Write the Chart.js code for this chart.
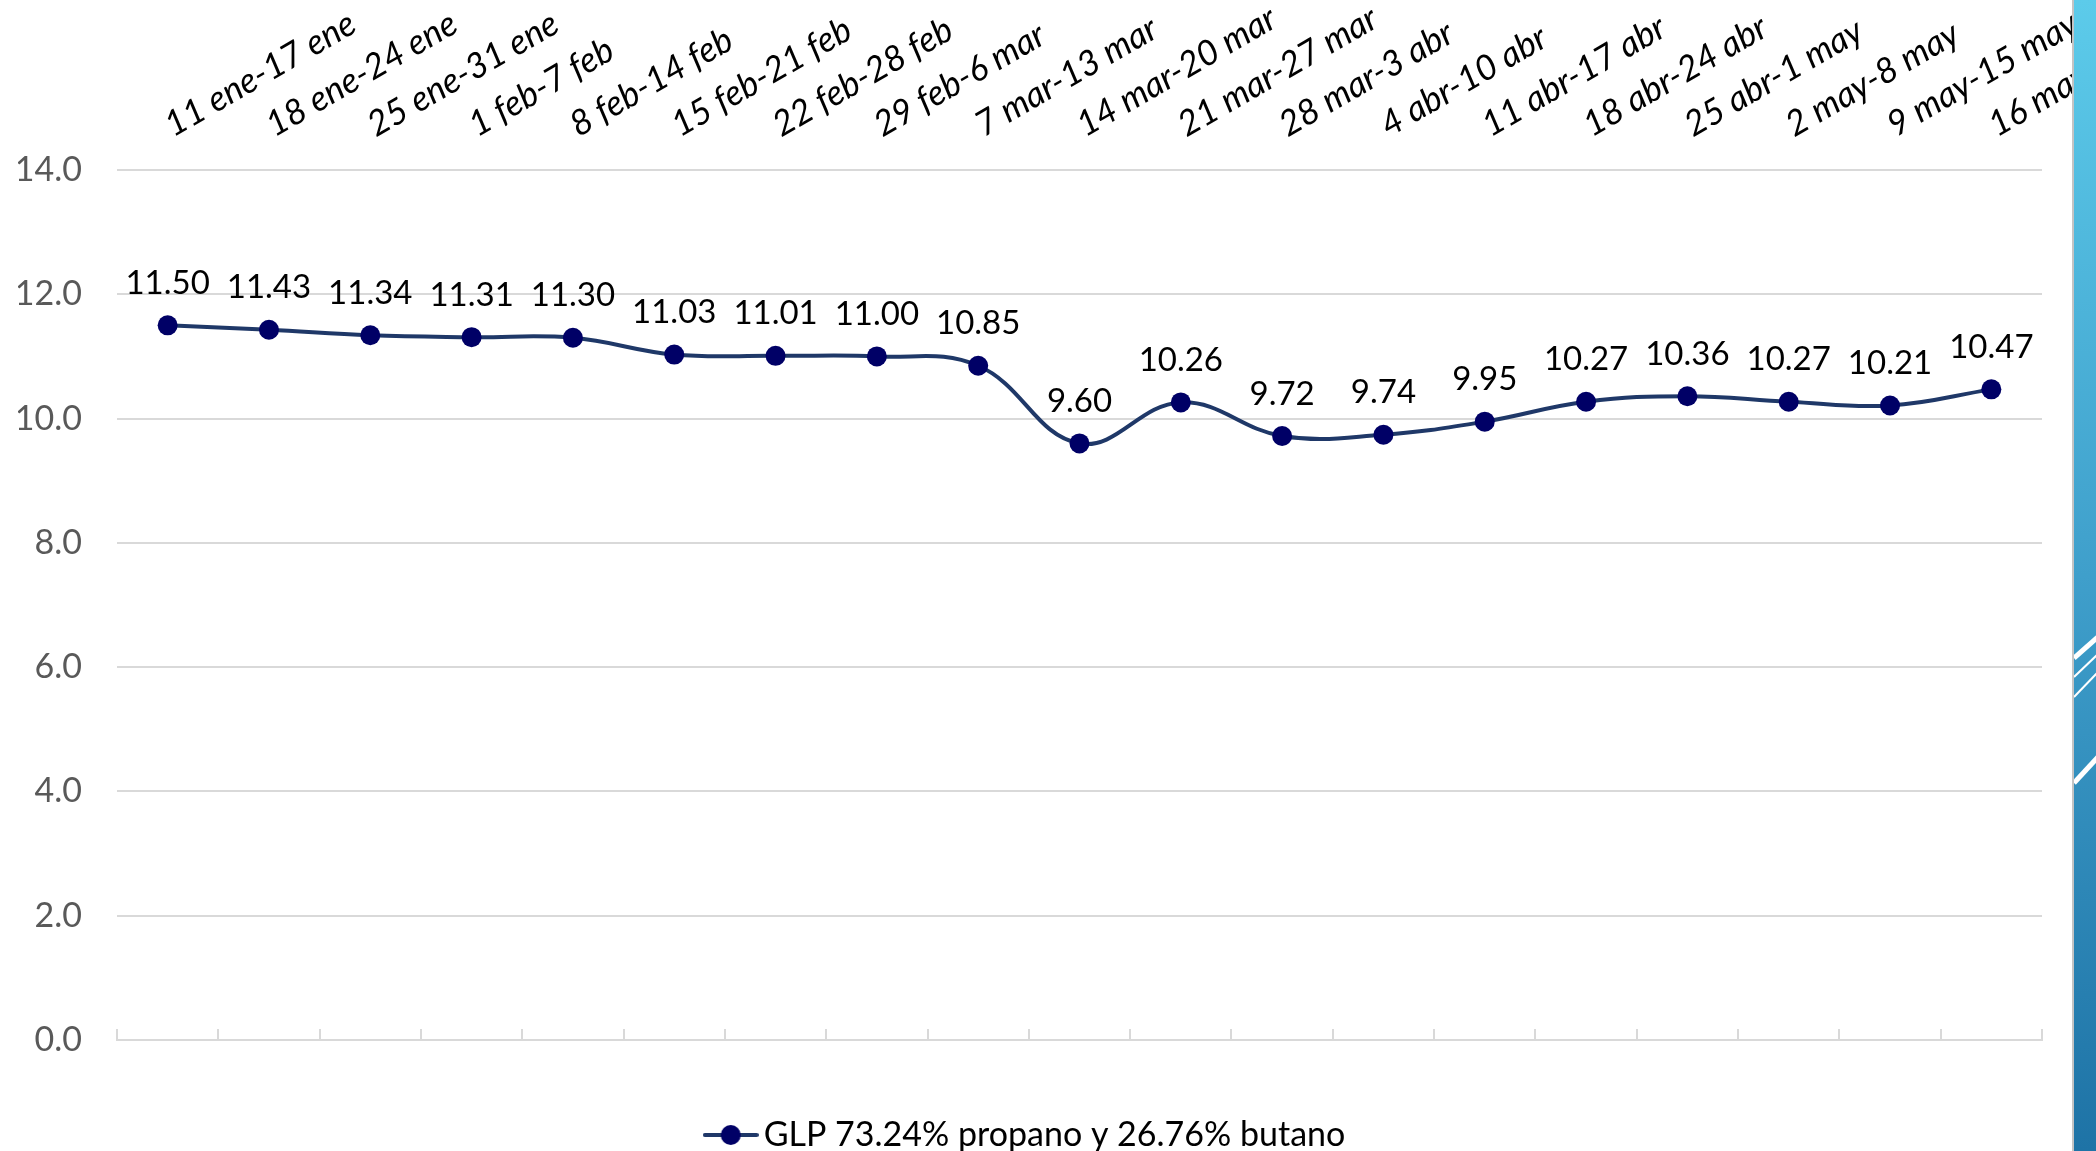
<!DOCTYPE html>
<html lang="es">
<head>
<meta charset="utf-8">
<title>GLP 73.24% propano y 26.76% butano</title>
<script src="https://cdn.jsdelivr.net/npm/chart.js@4"></script>
<style>
    html, body { margin: 0; padding: 0; background: #fff; overflow: hidden; }
    #wrap { position: relative; width: 2096px; height: 1151px; }
    #glpChart { position: absolute; left: 0; top: 0; }
    #barra {
        position: absolute; left: 2072px; top: 0; width: 24px; height: 1151px;
        background: linear-gradient(to bottom, #5ccbea 0%, #3f9fcb 50%, #1e73a6 100%);
        border-left: 2px solid #c4c4c4; box-sizing: border-box;
    }
    #barra svg { position: absolute; left: 0; top: 0; }
</style>
</head>
<body>
<div id="wrap">
    <canvas id="glpChart" width="2096" height="1162"></canvas>
    <div id="barra">
        <svg width="24" height="1151">
            <line x1="0" y1="658" x2="24" y2="637" stroke="#fff" stroke-width="5"/>
            <line x1="0" y1="677" x2="24" y2="654" stroke="#fff" stroke-width="2"/>
            <line x1="0" y1="697" x2="24" y2="672" stroke="#fff" stroke-width="2"/>
            <line x1="0" y1="783" x2="24" y2="757" stroke="#fff" stroke-width="5"/>
        </svg>
    </div>
</div>

<script>
// Semanas (eje superior)
const semanas = [
    '11 ene-17 ene', '18 ene-24 ene', '25 ene-31 ene', '1 feb-7 feb', '8 feb-14 feb',
    '15 feb-21 feb', '22 feb-28 feb', '29 feb-6 mar', '7 mar-13 mar', '14 mar-20 mar',
    '21 mar-27 mar', '28 mar-3 abr', '4 abr-10 abr', '11 abr-17 abr', '18 abr-24 abr',
    '25 abr-1 may', '2 may-8 may', '9 may-15 may', '16 may-22 may'
];

// Precio GLP por semana
const precioGLP = [
    11.50, 11.43, 11.34, 11.31, 11.30, 11.03, 11.01, 11.00, 10.85, 9.60,
    10.26, 9.72, 9.74, 9.95, 10.27, 10.36, 10.27, 10.21, 10.47
];

const serieNombre = 'GLP 73.24% propano y 26.76% butano';
const yTicks = [0, 2, 4, 6, 8, 10, 12, 14];

const colorLinea = '#1f3868';
const colorPunto = '#000066';
const colorGrid = '#d9d9d9';

// Marcador de la leyenda: linea con circulo
const marcador = document.createElement('canvas');
marcador.width = 56;
marcador.height = 24;
(() => {
    const c = marcador.getContext('2d');
    c.strokeStyle = colorLinea;
    c.lineWidth = 4;
    c.lineCap = 'round';
    c.beginPath(); c.moveTo(2, 12); c.lineTo(54, 12); c.stroke();
    c.fillStyle = colorPunto;
    c.beginPath(); c.arc(28, 12, 10, 0, Math.PI * 2); c.fill();
})();

// Etiquetas de valor encima de cada punto
const etiquetasValor = {
    id: 'etiquetasValor',
    afterDatasetsDraw(chart) {
        const { ctx } = chart;
        const meta = chart.getDatasetMeta(0);
        ctx.save();
        ctx.font = '33px Lato';
        ctx.fillStyle = '#000';
        ctx.textAlign = 'center';
        ctx.textBaseline = 'middle';
        meta.data.forEach((pt, i) => {
            ctx.fillText(precioGLP[i].toFixed(2), pt.x, pt.y - 42);
        });
        ctx.restore();
    }
};

const ctx = document.getElementById('glpChart').getContext('2d');
new Chart(ctx, {
    type: 'line',
    data: {
        labels: semanas,
        datasets: [{
            label: serieNombre,
            data: precioGLP,
            borderColor: colorLinea,
            borderWidth: 4,
            tension: 0.4,
            pointRadius: 10,
            pointHoverRadius: 10,
            pointBackgroundColor: colorPunto,
            pointBorderColor: colorPunto,
            pointBorderWidth: 0,
            xAxisID: 'x',
            yAxisID: 'y'
        }]
    },
    options: {
        responsive: false,
        animation: false,
        events: [],
        layout: { padding: { left: 18, right: 54, top: 0, bottom: 0 } },
        plugins: {
            tooltip: { enabled: false },
            legend: {
                position: 'bottom',
                labels: {
                    usePointStyle: true,
                    pointStyle: marcador,
                    pointStyleWidth: 32,
                    boxHeight: 24,
                    padding: 78,
                    color: '#000',
                    font: { family: 'Lato', size: 34 }
                }
            }
        },
        scales: {
            x: {
                type: 'category',
                position: 'top',
                offset: true,
                grid: { display: false },
                border: { display: false },
                ticks: {
                    autoSkip: false,
                    minRotation: 30,
                    maxRotation: 30,
                    padding: 16,
                    labelOffset: 21,
                    color: '#000',
                    font: { family: 'Lato', size: 35, style: 'italic' }
                },
                afterFit(scale) {
                    scale.height = 170;
                    scale.paddingLeft = 0;
                    scale.paddingRight = 0;
                }
            },
            x2: {
                type: 'category',
                position: 'bottom',
                offset: true,
                ticks: { display: false },
                grid: {
                    offset: true,
                    drawOnChartArea: false,
                    drawTicks: true,
                    tickLength: -11,
                    color: colorGrid,
                    lineWidth: 2
                },
                border: { display: true, color: colorGrid, width: 2 },
                afterFit(scale) {
                    scale.height = 0;
                    scale.paddingLeft = 0;
                    scale.paddingRight = 0;
                }
            },
            y: {
                min: 0,
                max: 14,
                afterBuildTicks(scale) {
                    scale.ticks = yTicks.map(v => ({ value: v }));
                },
                grid: { color: colorGrid, lineWidth: 2, drawTicks: false },
                border: { display: false },
                ticks: {
                    padding: 35,
                    color: '#595959',
                    font: { family: 'Lato', size: 34 },
                    callback: v => Number(v).toFixed(1)
                },
                afterFit(scale) {
                    scale.width = 99;
                    scale.paddingTop = 0;
                    scale.paddingBottom = 0;
                }
            }
        }
    },
    plugins: [etiquetasValor]
});
</script>
</body>
</html>
